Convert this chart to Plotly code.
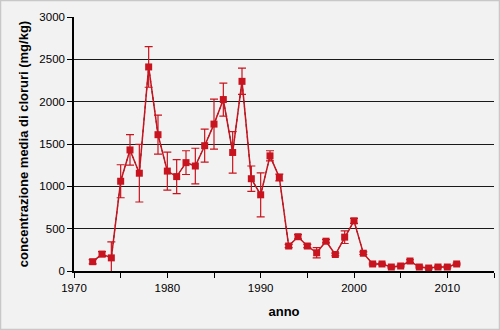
import plotly.graph_objects as go

years = list(range(1972, 2012))
values = [110, 200, 155, 1060, 1430, 1155, 2410, 1610, 1180, 1115,
          1280, 1240, 1480, 1735, 2025, 1400, 2240, 1090, 900, 1360,
          1105, 295, 405, 295, 215, 352, 195, 400, 592, 210,
          83, 83, 47, 59, 118, 47, 35, 47, 47, 83]
errors = [25, 30, 190, 195, 180, 340, 240, 230, 225, 200,
          140, 210, 195, 295, 195, 245, 155, 150, 260, 60,
          40, 20, 25, 20, 60, 20, 15, 75, 30, 15,
          10, 10, 10, 10, 15, 10, 10, 10, 10, 10]

red = "#c8141e"
fig = go.Figure()
fig.add_trace(go.Scatter(
    x=years, y=values, mode="lines",
    line=dict(color="black", width=1, dash="dot"),
    hoverinfo="skip", showlegend=False))
fig.add_trace(go.Scatter(
    x=years, y=values, mode="lines+markers",
    line=dict(color=red, width=1.5),
    marker=dict(symbol="square", size=7, color=red),
    error_y=dict(type="data", array=errors, visible=True, color=red,
                 thickness=1.2, width=4),
    showlegend=False))

L, R, T, B = 74, 6, 17, 59
W, H = 500, 330
pw, ph = W - L - R, H - T - B
fig.add_shape(type="rect", xref="paper", yref="paper",
              x0=(-L + 0.5) / pw, x1=(W - L - 0.5) / pw,
              y0=-(B - 0.5) / ph, y1=(ph + T - 0.5) / ph,
              line=dict(color="#c8c8c8", width=1.5), layer="below")

fig.update_layout(
    width=W, height=H,
    margin=dict(l=L, r=R, t=T, b=B),
    paper_bgcolor="#f2f2f2", plot_bgcolor="#f2f2f2",
    font=dict(family="Liberation Sans, Arial", size=11.5, color="black"),
    xaxis=dict(range=[1970, 2015], dtick=10, tick0=1970,
               ticks="outside", ticklen=5, tickcolor="black",
               minor=dict(dtick=5, ticks="outside", ticklen=5, tickcolor="black", showgrid=False),
               showgrid=False, showline=True, linecolor="black", linewidth=1.5,
               zeroline=False,
               title=dict(text="<b>anno</b>", font=dict(size=13), standoff=14)),
    yaxis=dict(range=[0, 3000], dtick=500, ticks="outside", ticklen=5,
               tickcolor="black", showgrid=True, gridcolor="#1a1a1a", gridwidth=1,
               showline=True, linecolor="black", linewidth=1.5, zeroline=False,
               title=dict(text="<b>concentrazione media di cloruri (mg/kg)</b>",
                          font=dict(size=13), standoff=8)),
)
fig.write_html("out.html")
